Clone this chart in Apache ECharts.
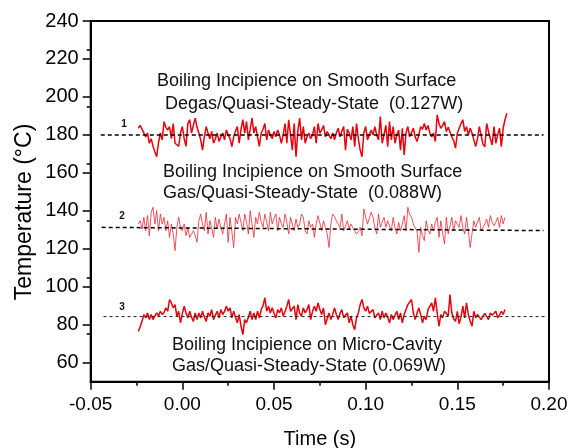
<!DOCTYPE html>
<html><head><meta charset="utf-8">
<script src="https://cdn.jsdelivr.net/npm/echarts@6/dist/echarts.min.js"></script>
<style>html,body{margin:0;padding:0;background:#fff}#c{width:570px;height:448px}</style>
</head><body><div id="c"></div><script>
// sampling grid of the traces (s)
const sampleStart = -0.024, sampleStep = 0.001;
// Trace 1: Degas / smooth surface (°C)
const trace1 = [
183.5,185,186,181,179,181,175.6,178,174,171,
168.5,176,181,177.4,187,184,182.6,184.4,178,186,
175.6,176,174,181,184.4,178,174,186,188,181,
185,188.8,184,181,177.4,172,179,184.4,181,178,
181.8,175.6,178,181,176.5,179,181,177.4,182.6,180,
178,173.8,179,182,184.4,175.6,183,188,181,187,
177.4,183,188.8,181,184.4,179,174,181,183,186,
177.4,182.6,180,178,181.8,179,182.6,180,175.6,180,
186,175.6,188,180,172,186,168.5,182,188.8,177.4,
184.4,175.6,179,181,178,180,184.4,175.6,186,181,
182.6,185,179,181.8,180,178,181,177.4,181,183.5,
179,182,184.4,172,183,181,177.4,184.4,173.8,186,
178,172,168.5,181,184.4,177.4,180,182.6,180,184.4,
180,177.4,189.7,175.6,180,185,173.8,187,177.4,184.4,
175.6,180,182.6,172,183.5,169.4,181,184.4,179,178,
183.5,179,176.5,180,184.4,183,186,182.6,185,181,
179,181,176.5,190.6,186,183.5,185,187,181.8,184,
183.5,179,177,173,181,183.5,186,188,181.8,184.4,
180,183.5,181,180,173.8,178,184.4,185,175,173.8,
186,181.8,178,174.7,184.4,175.6,180,183.5,173.8,183.5,
188,191.4];
// Trace 2: Gas / smooth surface (°C)
const trace2 = [
133,134.8,130.4,136.6,129.5,137.5,126.9,139.2,141.9,133.1,
140.1,129.5,138.3,133.1,136.6,129.5,134.8,126,133.1,128,
119,131.3,136.6,131,129.5,133.1,126.9,131.3,126,126,
129.5,127,123.4,134.8,138.3,133,129.5,139.2,127.8,134.8,
131,126,136.6,130.4,135.7,131,127.8,133,138.3,123.4,
136.6,129,120.7,136.6,133.1,138.3,138.3,129.5,138.3,134,
127.8,140.1,133,126,136.6,133.1,139.2,134,131.3,138.3,
134,129.5,139.2,133.1,136,138.3,129.5,136.6,133,131.3,
138.3,134,127.8,136.6,133,129.5,135.7,131.3,133.1,138.3,
136.6,129.5,127.8,134.8,131.3,133,126,133.1,137.5,138.3,
129.5,134.8,131.3,128,120.7,133.1,138.3,137,134.8,133,
131.3,138.3,129.5,132,134.8,130.4,133.1,131,129.5,127.8,
129,131.3,126.9,141,136.6,133,133.1,139.2,136.6,131,
127.8,138.3,131.3,134,136.6,131.3,134.8,132,129.5,136.6,
131,127.8,133.9,129.5,133,137.5,129.5,141.9,138,136.6,
133.1,131,129.5,118.1,131.3,127,124.3,134.8,130,127.8,
133.1,129.5,134,136.6,126,134.8,128,122.5,136.6,127.8,
132,136.6,129.5,134.8,133,131.3,137.5,131,127.8,136.6,
129.5,120.7,128,134.8,131.3,134,136.6,129.5,131,133.1,
135.7,131.3,137.5,134,132.2,134,136.6,131.3,137.5,133.1,
136.6];
// Trace 3: Gas / micro-cavity (°C)
const trace3 = [
76.5,79,81.8,85.4,83.6,86.2,82.7,85.4,82.7,84.5,
86.2,84.5,87.1,85.4,86.5,88.9,87.1,93.3,91.5,88.9,
90.6,84.5,87.1,81,86,89.8,86.2,83.6,87.1,84,
81.8,86.2,82.7,86.2,83.6,87.1,84,81.8,86.2,84.5,
88,82.7,85,87.1,83.6,88,85.4,87,89.8,87.1,
88.9,83.6,87.1,84,81,85.4,79.2,74.8,82.7,81,
84,87.1,82.7,86.2,82.7,87.1,83.6,88,90,94.2,
87.1,89.8,86.2,88.9,86,83.6,88,86.2,88.9,84.5,
87,89.8,93.3,87.1,88,89.8,82.7,90.6,86,84.5,
88.9,86.2,88,90.6,82.7,87,89.8,87.1,91.5,88,
85.4,88.9,80,79.2,86.2,82.7,85.4,88.9,85.4,82.7,
86,88,83.6,85,86.2,81,84.5,80,77.4,83.6,
86.2,90.6,93.3,88.9,87.1,89.8,86,86.2,88,83.6,
85,86.2,82.7,87.1,83.6,86.2,84,81,85.4,82.7,
85,87.1,82.7,86.2,81,85.4,88,90.6,92,93.3,
86.2,82.7,86,88.9,85.4,81,84.5,82.7,88,89,
91.5,87.1,94.2,86.2,79.2,85.4,83.6,87.1,86,84.5,
95.9,86.2,83,81.8,87.1,80.5,84,89.8,83.6,91.5,
85.4,82,79.2,87.1,83.6,85.4,84,82.7,84.5,86,
86.2,82.7,86.2,85,84.5,87.1,83.6,85,87.1,85.4,
88];
// dashed reference levels [time, °C]
const ref1 = [[-0.0445,180],[0.197,180]];
const ref2 = [[-0.044,131.3],[0.197,129.6]];
const ref3 = [[-0.043,84.3],[0.198,84.3]];
const yTickValues = [60,80,100,120,140,160,180,200,220,240];
const annotations = [
  ['Boiling Incipience on Smooth Surface', 157, 81],
  ['Degas/Quasi-Steady-State  (0.127W)', 165, 104],
  ['Boiling Incipience on Smooth Surface', 163, 172],
  ['Gas/Quasi-Steady-State  (0.088W)', 163, 193],
  ['Boiling Incipience on Micro-Cavity', 172, 345],
  ['Gas/Quasi-Steady-State (0.069W)', 172, 366]
];
const traceLabels = [['1',124,124],['2',122,216],['3',122,307]];

const FONT = '"Liberation Sans", Arial, sans-serif';
const toXY = arr => arr.map((v,i)=>[+(sampleStart + i*sampleStep).toFixed(4), v]);

const chart = echarts.init(document.getElementById('c'), null, {renderer:'canvas'});
const graphic = annotations.map(a=>({
  type:'text', x:a[1], y:a[2], z:100,
  style:{text:a[0], fontSize:18, fontFamily:FONT, fill:'#111', align:'left', verticalAlign:'middle'}
})).concat(traceLabels.map(a=>({
  type:'text', x:a[1], y:a[2], z:100,
  style:{text:a[0], fontSize:10, fontWeight:'bold', fontFamily:FONT, fill:'#111', align:'center', verticalAlign:'middle'}
}))).concat([{
  type:'text', x:25, y:212, rotation:Math.PI/2, z:100,
  style:{text:'Temperature (°C)', fontSize:23, fontFamily:FONT, fill:'#000', align:'center', verticalAlign:'middle'}
}]);

chart.setOption({
  animation:false,
  grid:{left:90.7, right:21, top:21, bottom:66.3, outerBoundsMode:'none',
        show:true, borderColor:'#000', borderWidth:2, backgroundColor:'transparent'},
  graphic: graphic,
  xAxis:[{
    type:'value', min:-0.05, max:0.2, interval:0.05, position:'bottom',
    axisLine:{show:true, onZero:false, lineStyle:{color:'#000', width:2}},
    axisTick:{show:true, length:8, lineStyle:{color:'#000', width:1.5}},
    minorTick:{show:true, splitNumber:2, length:4, lineStyle:{color:'#000', width:1.5}},
    axisLabel:{formatter:v=>v.toFixed(2), fontSize:19, color:'#000', fontFamily:FONT, margin:14},
    splitLine:{show:false}, minorSplitLine:{show:false},
    name:'Time (s)', nameLocation:'middle', nameGap:48,
    nameTextStyle:{fontSize:20, color:'#000', fontFamily:FONT}
  }],
  yAxis:[{
    type:'value', min:50, max:240, position:'left',
    axisLine:{show:true, onZero:false, lineStyle:{color:'#000', width:2}},
    axisTick:{show:true, length:8, customValues:yTickValues, lineStyle:{color:'#000', width:1.5}},
    minorTick:{show:true, splitNumber:2, length:4, lineStyle:{color:'#000', width:1.5}},
    axisLabel:{customValues:yTickValues, fontSize:20, color:'#000', fontFamily:FONT, margin:12},
    splitLine:{show:false}, minorSplitLine:{show:false}
  }],
  series:[
    {type:'line', data:toXY(trace1), symbol:'none', lineStyle:{color:'#e8000b', width:1.5}, z:2},
    {type:'line', data:toXY(trace2), symbol:'none', lineStyle:{color:'rgba(236,40,55,0.8)', width:1}, z:2},
    {type:'line', data:toXY(trace3), symbol:'none', lineStyle:{color:'#e8000b', width:1.5}, z:2},
    {type:'line', data:ref1, symbol:'none', lineStyle:{color:'#000', width:1.5, type:[4,3]}, z:3},
    {type:'line', data:ref2, symbol:'none', lineStyle:{color:'#000', width:1.5, type:[4,3]}, z:3},
    {type:'line', data:ref3, symbol:'none', lineStyle:{color:'#222', width:1, type:[3,3]}, z:3}
  ]
});
</script></body></html>
